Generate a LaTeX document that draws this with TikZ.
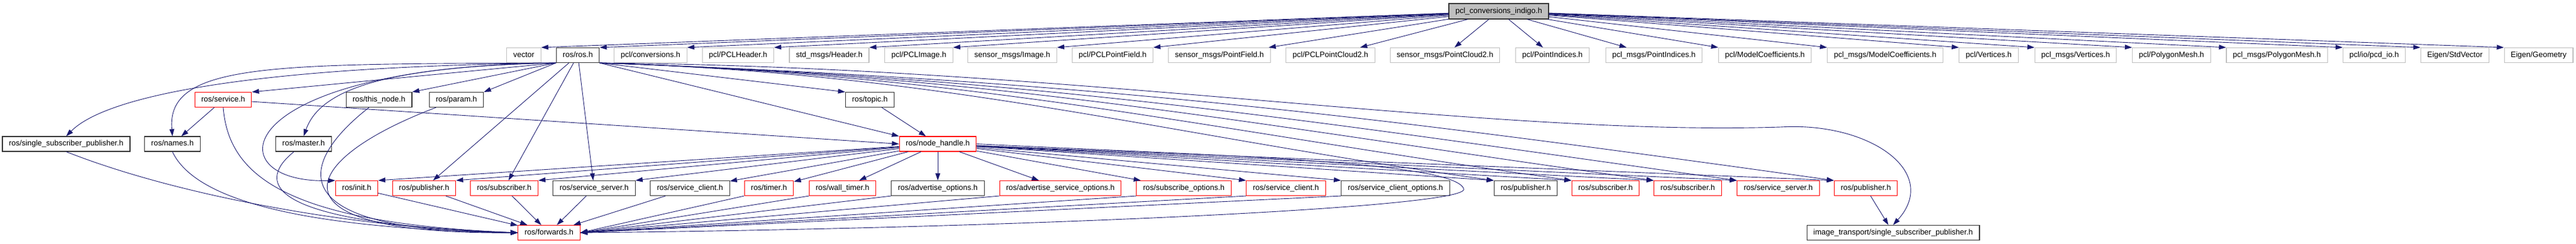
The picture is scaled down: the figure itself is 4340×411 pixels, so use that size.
\documentclass[tikz,border=0pt]{standalone}
\usepackage{fontspec}
\setmainfont{Liberation Sans}
\usetikzlibrary{arrows.meta}
\definecolor{edgeblue}{HTML}{191970}
\definecolor{boxgray}{HTML}{BFBFBF}
\begin{document}
\begin{tikzpicture}[x=1pt,y=-1pt,
	hdr/.style={draw=black!80, line width=1.1pt, fill=white, minimum height=25pt, inner xsep=11pt, inner ysep=0pt,
		text height=9.5pt, text depth=3pt, font=\fontsize{13}{15}\selectfont},
	ext/.style={hdr, draw=boxgray},
	redhdr/.style={hdr, draw=red},
	root/.style={hdr, fill=boxgray, minimum height=26pt},
	dep/.style={edgeblue, line width=0.9pt, -{Triangle[length=12pt,width=8pt]}}]
	\fill[white] (0,0) rectangle (4340,411);
	\useasboundingbox (0,0) rectangle (4340,411);
	% Headers
	\node[root] (indigo) at (2525,19) {pcl\_conversions\_indigo.h};
	\node[ext] (vector) at (882.5,93) {vector};
	\node[hdr] (ros) at (973.5,93) {ros/ros.h};
	\node[ext] (pclconv) at (1096,93) {pcl/conversions.h};
	\node[ext] (pclhdr) at (1243.5,93) {pcl/PCLHeader.h};
	\node[ext] (stdhdr) at (1397,93) {std\_msgs/Header.h};
	\node[ext] (pclimg) at (1548,93) {pcl/PCLImage.h};
	\node[ext] (senimg) at (1705.5,93) {sensor\_msgs/Image.h};
	\node[ext] (pclpf) at (1874.5,93) {pcl/PCLPointField.h};
	\node[ext] (senpf) at (2054.5,93) {sensor\_msgs/PointField.h};
	\node[ext] (pclpc2) at (2241.5,93) {pcl/PCLPointCloud2.h};
	\node[ext] (senpc2) at (2434.5,93) {sensor\_msgs/PointCloud2.h};
	\node[ext] (pclpi) at (2615.5,93) {pcl/PointIndices.h};
	\node[ext] (msgpi) at (2786.5,93) {pcl\_msgs/PointIndices.h};
	\node[ext] (pclmc) at (2973.5,93) {pcl/ModelCoefficients.h};
	\node[ext] (msgmc) at (3176,93) {pcl\_msgs/ModelCoefficients.h};
	\node[ext] (pclvert) at (3350.5,93) {pcl/Vertices.h};
	\node[ext] (msgvert) at (3497,93) {pcl\_msgs/Vertices.h};
	\node[ext] (pclmesh) at (3658.5,93) {pcl/PolygonMesh.h};
	\node[ext] (msgmesh) at (3836,93) {pcl\_msgs/PolygonMesh.h};
	\node[ext] (pcdio) at (4000,93) {pcl/io/pcd\_io.h};
	\node[ext] (stdvec) at (4136,93) {Eigen/StdVector};
	\node[ext] (geom) at (4277,93) {Eigen/Geometry};
	\node[redhdr] (service) at (376,168) {ros/service.h};
	\node[hdr] (thisnode) at (638.5,168) {ros/this\_node.h};
	\node[hdr] (param) at (769,168) {ros/param.h};
	\node[hdr] (topic) at (1465.5,168) {ros/topic.h};
	\node[hdr] (ssp) at (111.5,242.5) {ros/single\_subscriber\_publisher.h};
	\node[hdr] (names) at (290.5,242.5) {ros/names.h};
	\node[hdr] (master) at (511.5,242.5) {ros/master.h};
	\node[redhdr] (nh) at (1580,242.5) {ros/node\_handle.h};
	\node[redhdr] (init) at (601,317) {ros/init.h};
	\node[redhdr] (pubA) at (714.5,317) {ros/publisher.h};
	\node[redhdr] (subA) at (849.5,317) {ros/subscriber.h};
	\node[hdr] (srvA) at (1001,317) {ros/service\_server.h};
	\node[hdr] (cliA) at (1162.5,317) {ros/service\_client.h};
	\node[redhdr] (timer) at (1295.5,317) {ros/timer.h};
	\node[redhdr] (wtimer) at (1419.5,317) {ros/wall\_timer.h};
	\node[hdr] (advopt) at (1580,317) {ros/advertise\_options.h};
	\node[redhdr] (advsrvopt) at (1786.5,317) {ros/advertise\_service\_options.h};
	\node[redhdr] (subopt) at (1994.5,317) {ros/subscribe\_options.h};
	\node[redhdr] (cliB) at (2166.5,317) {ros/service\_client.h};
	\node[hdr] (cliopt) at (2351,317) {ros/service\_client\_options.h};
	\node[hdr] (pubB) at (2570.5,317) {ros/publisher.h};
	\node[redhdr] (subB) at (2705,317) {ros/subscriber.h};
	\node[redhdr] (subC) at (2843.5,317) {ros/subscriber.h};
	\node[redhdr] (srvB) at (2996,317) {ros/service\_server.h};
	\node[redhdr] (pubC) at (3143.5,317) {ros/publisher.h};
	\node[redhdr] (fwd) at (925,392) {ros/forwards.h};
	\node[hdr] (itssp) at (3189.5,392) {image\_transport/single\_subscriber\_publisher.h};
	% pcl_conversions_indigo.h
	\draw[dep] (indigo) -- (vector.north east);
	\draw[dep] (indigo) -- (ros.north east);
	\draw[dep] (indigo) -- (pclconv.north east);
	\draw[dep] (indigo) -- (pclhdr.north east);
	\draw[dep] (indigo) -- (stdhdr.north east);
	\draw[dep] (indigo) -- (pclimg.north east);
	\draw[dep] (indigo) -- (senimg.north east);
	\draw[dep] (indigo) -- (pclpf.north east);
	\draw[dep] (indigo) -- (senpf);
	\draw[dep] (indigo) -- (pclpc2);
	\draw[dep] (indigo) -- (senpc2);
	\draw[dep] (indigo) -- (pclpi);
	\draw[dep] (indigo) -- (msgpi);
	\draw[dep] (indigo) -- (pclmc.north west);
	\draw[dep] (indigo) -- (msgmc.north west);
	\draw[dep] (indigo) -- (pclvert.north west);
	\draw[dep] (indigo) -- (msgvert.north west);
	\draw[dep] (indigo) -- (pclmesh.north west);
	\draw[dep] (indigo) -- (msgmesh.north west);
	\draw[dep] (indigo) -- (pcdio.north west);
	\draw[dep] (indigo) -- (stdvec.north west);
	\draw[dep] (indigo) -- (geom.north west);
	% ros/ros.h
	\draw[dep] (ros.south west) .. controls (430,112) and (180,160) .. (ssp.north);
	\draw[dep] (ros.south west) .. controls (460,108) and (280,105) .. (names.north);
	\draw[dep] (ros.south west) .. controls (650,112) and (540,150) .. (master.north);
	\draw[dep] (ros.south west) .. controls (380,112) and (360,310) .. (init.north west);
	\draw[dep] (ros.south west) -- (service.north east);
	\draw[dep] (ros.south west) -- (thisnode.north east);
	\draw[dep] (ros.south west) -- (param.north east);
	\draw[dep] (ros.south east) -- (topic.north west);
	\draw[dep] (ros.south east) -- (nh.north west);
	\draw[dep] (ros) -- (pubA);
	\draw[dep] (ros) -- (subA);
	\draw[dep] (ros) -- (srvA);
	\draw[dep] (ros.south east) .. controls (1598,124) and (1935,223) .. (pubB.north west);
	\draw[dep] (ros.south east) .. controls (1648,126) and (2015,216) .. (subB.north west);
	\draw[dep] (ros.south east) .. controls (1703,129) and (2100,209) .. (subC.north west);
	\draw[dep] (ros.south east) .. controls (1757,132) and (2186,201) .. (srvB.north west);
	\draw[dep] (ros.south east) .. controls (1821,135) and (2287,192) .. (pubC.north west);
	\draw[dep] (ros.south east) .. controls (1800,112) and (2500,230) .. (3000,214)
		.. controls (3150,205) and (3270,290) .. (itssp.north);
	% middle rows
	\draw[dep] (service) -- (names);
	\draw[dep] (service) -- (nh.west);
	\draw[dep] (topic) -- (nh);
	\draw[dep] (service.south) .. controls (385,290) and (470,375) .. (fwd.west);
	\draw[dep] (thisnode) .. controls (520,260) and (440,390) .. (fwd.west);
	\draw[dep] (param) .. controls (500,270) and (440,395) .. (fwd.west);
	\draw[dep] (master) .. controls (440,300) and (420,375) .. (fwd.west);
	\draw[dep] (names.south) .. controls (330,340) and (520,385) .. (fwd.west);
	\draw[dep] (ssp.south) .. controls (300,330) and (600,385) .. (fwd.west);
	% ros/node_handle.h
	\draw[dep] (nh) -- (init.north east);
	\draw[dep] (nh) -- (pubA.north east);
	\draw[dep] (nh) -- (subA.north east);
	\draw[dep] (nh) -- (srvA.north east);
	\draw[dep] (nh) -- (cliA);
	\draw[dep] (nh) -- (timer);
	\draw[dep] (nh) -- (wtimer);
	\draw[dep] (nh) -- (advopt);
	\draw[dep] (nh) -- (advsrvopt);
	\draw[dep] (nh) -- (subopt);
	\draw[dep] (nh) -- (cliB.north west);
	\draw[dep] (nh) -- (cliopt.north west);
	\draw[dep] (nh) -- (pubB.north west);
	\draw[dep] (nh) -- (subB.north west);
	\draw[dep] (nh) -- (subC.north west);
	\draw[dep] (nh) -- (srvB.north west);
	\draw[dep] (nh) -- (pubC.north west);
	\draw[dep] (nh.east) .. controls (2050,262) and (2450,272) .. (2466,318)
		.. controls (2480,350) and (1700,385) .. (fwd.east);
	% ros/forwards.h
	\draw[dep] (init) -- (fwd);
	\draw[dep] (pubA) -- (fwd);
	\draw[dep] (subA) -- (fwd);
	\draw[dep] (srvA) -- (fwd);
	\draw[dep] (cliA) -- (fwd);
	\draw[dep] (timer.south west) -- (fwd.east);
	\draw[dep] (wtimer.south west) -- (fwd.east);
	\draw[dep] (advopt.south west) -- (fwd.east);
	\draw[dep] (advsrvopt.south west) -- (fwd.east);
	\draw[dep] (subopt.south west) -- (fwd.east);
	\draw[dep] (cliB.south west) -- (fwd.east);
	\draw[dep] (cliopt.south west) -- (fwd.east);
	\draw[dep] (pubC) -- (itssp);
\end{tikzpicture}
\end{document}
